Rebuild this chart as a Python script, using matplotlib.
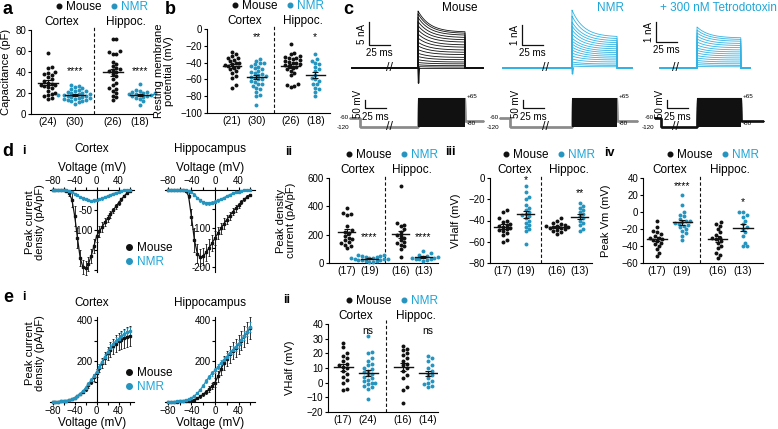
import numpy as np
import matplotlib
matplotlib.use("Agg")
import matplotlib.pyplot as plt
import matplotlib.transforms as mtransforms
from matplotlib.lines import Line2D

plt.rcParams["font.family"] = ["Liberation Sans", "DejaVu Sans"]
plt.rcParams["axes.linewidth"] = 0.8

BLACK = "#111111"
NMR = "#2595c0"
NMR_TXT = "#1fa6d8"
TRACE = "#33b3e3"

# ---------------- data ----------------
# a: capacitance (pF)
cap_mouse_ctx = [58, 45, 44, 40, 39, 38, 37, 35, 33, 31, 30, 29, 28, 28, 27, 26, 25, 22, 20, 19, 18, 17, 15, 14]
cap_nmr_ctx = [28, 27, 26, 25, 24, 23, 22, 22, 21, 20, 20, 19, 19, 18, 18, 18, 17, 17, 16, 16, 15, 15,
               14, 14, 13, 13, 12, 12, 11, 10]
cap_mouse_hip = [71, 71, 60, 59, 57, 57, 50, 48, 46, 44, 43, 42, 41, 40, 38, 36, 33, 30, 28, 25, 24, 22,
                 20, 17, 16, 13]
cap_nmr_hip = [29, 23, 22, 21, 21, 20, 20, 19, 19, 18, 18, 17, 17, 16, 15, 14, 12, 9]

# b: resting membrane potential (mV)
rmp_mouse_ctx = [-27, -30, -32, -34, -35, -37, -38, -40, -41, -42, -43, -44, -45, -46, -48, -50, -52, -56,
                 -58, -67, -70]
rmp_nmr_ctx = [-36, -38, -40, -41, -42, -44, -45, -47, -48, -50, -51, -52, -54, -55, -56, -57, -58, -59,
               -60, -62, -63, -65, -66, -68, -70, -72, -75, -78, -80, -90]
rmp_mouse_hip = [-18, -28, -30, -32, -33, -34, -35, -36, -37, -38, -39, -40, -41, -42, -43, -44, -45, -46,
                 -48, -50, -52, -55, -66, -67, -68, -69]
rmp_nmr_hip = [-30, -36, -38, -40, -42, -45, -48, -50, -55, -58, -60, -62, -65, -66, -70, -72, -75, -80]

# d ii: Na peak density current (pA/pF)
na_peak_mouse_ctx = [385, 345, 350, 340, 260, 230, 220, 210, 190, 180, 170, 160, 150, 140, 130, 120, 105]
na_peak_nmr_ctx = [60, 55, 52, 48, 45, 40, 38, 35, 32, 30, 28, 25, 22, 20, 18, 15, 12, 10, 8]
na_peak_mouse_hip = [540, 280, 270, 260, 240, 220, 200, 190, 180, 160, 150, 140, 130, 120, 100, 40]
na_peak_nmr_hip = [85, 70, 55, 50, 45, 40, 38, 35, 30, 28, 25, 20, 15]

# d iii: Na VHalf (mV)
na_vh_mouse_ctx = [-30, -32, -38, -40, -41, -43, -44, -45, -46, -47, -48, -49, -50, -52, -54, -58, -60]
na_vh_nmr_ctx = [-8, -13, -18, -20, -25, -28, -30, -32, -34, -35, -36, -38, -40, -42, -44, -46, -48, -50, -62]
na_vh_mouse_hip = [-38, -40, -42, -43, -44, -45, -45, -46, -46, -47, -47, -48, -49, -50, -51, -53]
na_vh_nmr_hip = [-24, -26, -28, -30, -32, -34, -36, -38, -40, -42, -44, -48, -50]

# d iv: peak Vm (mV)
na_vm_mouse_ctx = [-10, -18, -22, -24, -26, -28, -30, -31, -32, -33, -34, -36, -38, -40, -44, -48, -52]
na_vm_nmr_ctx = [20, 8, 0, -3, -5, -8, -10, -11, -12, -13, -14, -15, -16, -18, -20, -22, -25, -28, -33]
na_vm_mouse_hip = [-12, -14, -16, -20, -24, -27, -30, -31, -32, -34, -36, -40, -42, -48, -50, -54]
na_vm_nmr_hip = [0, 0, -3, -6, -10, -14, -18, -20, -24, -28, -36, -40, -40]

# e ii: K VHalf (mV)
k_vh_mouse_ctx = [27, 24, 20, 18, 17, 15, 13, 12, 11, 10, 8, 6, 4, 2, 0, -4, -5]
k_vh_nmr_ctx = [32, 21, 20, 17, 15, 13, 12, 10, 9, 8, 7, 6, 5, 4, 3, 2, 1, 0, 0, -1, -2, -3, -4, -11]
k_vh_mouse_hip = [25, 23, 22, 20, 19, 17, 15, 13, 12, 10, 8, 5, 3, -3, -5, -14]
k_vh_nmr_hip = [18, 17, 15, 12, 10, 8, 6, 5, 3, 1, 0, -1, -2, -3]

# d i / e i: I-V curves
volts = [-80, -75, -70, -65, -60, -55, -50, -45, -40, -35, -30, -25, -20, -15, -10, -5, 0,
         5, 10, 15, 20, 25, 30, 35, 40, 45, 50, 55, 60]
na_iv_mouse_ctx = [0, 0, 0, 0, -1, -2, -8, -25, -65, -120, -170, -193, -195, -185, -165, -140, -115,
                   -103, -92, -81, -71, -61, -51, -41, -32, -23, -15, -8, -3]
na_iv_mouse_ctx_sem = [0, 0, 0, 0, 1, 2, 8, 18, 25, 25, 20, 18, 18, 18, 18, 17, 16, 14, 12, 10, 9, 8,
                       7, 6, 5, 4, 3, 2, 2]
na_iv_nmr_ctx = [0, 0, 0, 0, 0, 0, -2, -5, -9, -13, -18, -21, -23, -25, -27, -26, -25, -23, -21, -18,
                 -15, -12, -9, -7, -5, -3, -1, 0, 0]
na_iv_nmr_ctx_sem = [0, 0, 0, 0, 0, 0, 1, 1, 2, 2, 3, 3, 3, 3, 3, 3, 3, 3, 3, 2, 2, 2, 1, 1, 1, 1, 0, 0, 0]
na_iv_mouse_hip = [0, 0, 0, 0, 0, 0, -2, -15, -70, -130, -165, -175, -172, -162, -150, -138, -125,
                   -112, -100, -88, -77, -67, -57, -48, -40, -32, -24, -17, -12]
na_iv_mouse_hip_sem = [0, 0, 0, 0, 0, 1, 2, 6, 20, 30, 25, 22, 22, 22, 22, 20, 18, 16, 15, 14, 12, 10,
                       9, 8, 6, 5, 4, 3, 2]
na_iv_nmr_hip = [0, 0, 0, 0, 0, 0, 0, -2, -6, -12, -20, -27, -32, -35, -35, -33, -30, -27, -24, -20,
                 -16, -12, -9, -6, -4, -2, -1, 0, 0]
na_iv_nmr_hip_sem = [0, 0, 0, 0, 0, 0, 0, 1, 2, 3, 3, 4, 4, 4, 4, 4, 4, 3, 3, 3, 3, 2, 2, 2, 1, 1, 1, 0, 0]

k_iv_mouse_ctx = [2, 2, 2, 3, 4, 6, 9, 14, 20, 28, 38, 50, 65, 82, 100, 120, 142, 165, 190, 215, 238,
                  256, 272, 285, 296, 305, 312, 318, 322]
k_iv_mouse_ctx_sem = [1, 1, 1, 1, 1, 2, 2, 3, 4, 5, 6, 8, 10, 12, 14, 16, 18, 20, 24, 28, 32, 35, 38,
                      40, 42, 44, 46, 48, 50]
k_iv_nmr_ctx = [2, 2, 2, 3, 4, 6, 9, 14, 21, 30, 41, 54, 70, 88, 107, 127, 148, 172, 197, 222, 245,
                265, 282, 297, 310, 322, 332, 340, 346]
k_iv_nmr_ctx_sem = [1, 1, 1, 1, 1, 1, 2, 2, 3, 4, 5, 6, 7, 8, 9, 10, 11, 12, 13, 14, 15, 16, 17, 18,
                    19, 20, 20, 21, 22]
k_iv_mouse_hip = [1, 1, 2, 2, 3, 4, 5, 6, 8, 12, 18, 27, 38, 50, 63, 78, 95, 125, 160, 190, 212, 232,
                  250, 266, 282, 300, 320, 340, 362]
k_iv_mouse_hip_sem = [1, 1, 1, 1, 1, 1, 2, 2, 3, 4, 5, 6, 8, 10, 13, 16, 20, 25, 30, 35, 38, 40, 42,
                      44, 46, 48, 50, 52, 54]
k_iv_nmr_hip = [1, 1, 2, 3, 4, 6, 9, 13, 20, 30, 43, 60, 80, 102, 123, 140, 155, 172, 190, 207, 222,
                238, 254, 269, 284, 304, 324, 344, 366]
k_iv_nmr_hip_sem = [1, 1, 1, 1, 1, 1, 1, 2, 2, 3, 4, 5, 6, 8, 10, 11, 12, 13, 14, 15, 16, 17, 18, 19,
                    20, 21, 22, 23, 24]

# c: example current families (nA) and voltage protocol (mV)
mouse_peaks = [12.4, 11.8, 11.0, 10.1, 9.2, 8.3, 7.4, 6.5, 5.6, 4.8, 4.0, 3.2, 2.5, 1.8, 1.2, 0.7, 0.3, 0.1]
mouse_ends = [7.8, 7.5, 7.1, 6.6, 6.1, 5.6, 5.0, 4.5, 3.9, 3.4, 2.9, 2.3, 1.8, 1.3, 0.9, 0.5, 0.2, 0.1]
nmr_peaks = [2.9, 2.6, 2.3, 2.1, 1.9, 1.7, 1.5, 1.35, 1.2, 1.05, 0.9, 0.75, 0.6, 0.45, 0.3, 0.2, 0.1]
nmr_ends = [1.55, 1.45, 1.35, 1.25, 1.15, 1.05, 0.95, 0.85, 0.76, 0.67, 0.58, 0.49, 0.4, 0.3, 0.2, 0.13, 0.06]
ttx_peaks = [2.05, 1.9, 1.75, 1.6, 1.45, 1.3, 1.15, 1.0, 0.88, 0.75, 0.62, 0.5, 0.38, 0.27, 0.17, 0.08]
ttx_ends = [1.5, 1.42, 1.33, 1.22, 1.12, 1.01, 0.9, 0.8, 0.7, 0.6, 0.5, 0.4, 0.3, 0.21, 0.13, 0.06]
step_levels = [-80, -75, -70, -65, -60, -55, -50, -45, -40, -35, -30, -25, -20, -15, -10, -5, 0,
               5, 10, 15, 20, 25, 30, 35, 40, 45, 50, 55, 60, 65]

# ---------------- figure ----------------
W, H = 778, 429
fig = plt.figure(figsize=(W / 100, H / 100), dpi=100)


def px_axes(x0, y0, x1, y1):
    return fig.add_axes([x0 / W, 1 - y1 / H, (x1 - x0) / W, (y1 - y0) / H])


def ftext(x, y, s, **kw):
    kw.setdefault("ha", "center")
    kw.setdefault("va", "center")
    return fig.text(x / W, 1 - y / H, s, **kw)


POS = [0, 1, 2.4, 3.4]
COLS = [BLACK, NMR, BLACK, NMR]


def swarm_x(ax, pos, vals, d=3.7):
    tr = ax.transData
    pts = tr.transform(np.column_stack([np.full(len(vals), pos), vals]))
    ys = pts[:, 1]
    unit = tr.transform((pos + 1, 0))[0] - tr.transform((pos, 0))[0]
    offs = np.zeros(len(vals))
    placed = []
    for i in np.argsort(ys):
        k = 0
        while True:
            off = ((k + 1) // 2) * 0.5 * d * (1 if k % 2 else -1)
            if all((off - po) ** 2 + (ys[i] - py) ** 2 >= d * d for po, py in placed):
                break
            k += 1
        placed.append((off, ys[i]))
        offs[i] = off
    return pos + offs / unit


def dot_panel(box, groups, xlim, ylim, yticks, ylabel, ylab_x, marks, mark_y):
    ax = px_axes(*box)
    hpx = box[3] - box[1]
    ax.set_xlim(xlim)
    ax.set_ylim(ylim)
    for s in ["top", "right"]:
        ax.spines[s].set_visible(False)
    ax.set_yticks(yticks)
    ax.tick_params(axis="y", labelsize=7, length=2.5, width=0.8, pad=1)
    ax.set_xticks(POS)
    ax.set_xticklabels([f"({len(g)})" for g in groups], fontsize=7.5)
    ax.tick_params(axis="x", length=0, pad=2)
    ax.set_ylabel(ylabel, fontsize=8, linespacing=1.0)
    ax.yaxis.set_label_coords(ylab_x, 0.5)
    blend = mtransforms.blended_transform_factory(ax.transData, ax.transAxes)
    ax.plot([1.7, 1.7], [0, 1.04], transform=blend, ls=(0, (3, 2)), color=BLACK, lw=0.8, clip_on=False)
    for p, g, c in zip(POS, groups, COLS):
        g = np.asarray(g, float)
        xs = swarm_x(ax, p, g)
        ax.scatter(xs, g, s=8, color=c, lw=0, zorder=3, clip_on=False)
        m = g.mean()
        se = g.std(ddof=1) / np.sqrt(len(g))
        ax.plot([p - 0.38, p + 0.38], [m, m], color=BLACK, lw=1.0, zorder=4)
        ax.errorbar(p, m, yerr=se, color=BLACK, lw=0.8, capsize=2.2, capthick=0.8, zorder=4)
    for idx, s, y in zip([1, 3], marks, mark_y):
        ax.text(POS[idx], y, s, ha="center", va="center", fontsize=7.5)
    ax.text(0.5, 1 + 8 / hpx, "Cortex", transform=blend, ha="center", va="center", fontsize=8.5)
    ax.text(2.9, 1 + 8 / hpx, "Hippoc.", transform=blend, ha="center", va="center", fontsize=8.5)
    h = [Line2D([], [], ls="", marker="o", ms=3.3, color=BLACK),
         Line2D([], [], ls="", marker="o", ms=3.3, color=NMR)]
    leg = ax.legend(h, ["Mouse", "NMR"], ncol=2, loc="center", bbox_to_anchor=(0.58, 1 + 23 / hpx),
                    frameon=False, fontsize=8.5, handletextpad=0.35, columnspacing=0.8,
                    handlelength=0.5, borderpad=0, borderaxespad=0)
    leg.get_texts()[1].set_color(NMR_TXT)
    return ax


dot_panel((31, 30, 153, 114), [cap_mouse_ctx, cap_nmr_ctx, cap_mouse_hip, cap_nmr_hip],
          (-0.63, 3.89), (0, 80), [0, 20, 40, 60, 80], "Capacitance (pF)", -0.16,
          ["****", "****"], [41, 41])
dot_panel((207, 29, 330, 113), [rmp_mouse_ctx, rmp_nmr_ctx, rmp_mouse_hip, rmp_nmr_hip],
          (-1.02, 4.0), (-100, 0), [0, -20, -40, -60, -80, -100],
          "Resting membrane\npotential (mV)", -0.27, ["**", "*"], [-10, -10])
dot_panel((329, 178, 438, 263), [na_peak_mouse_ctx, na_peak_nmr_ctx, na_peak_mouse_hip, na_peak_nmr_hip],
          (-0.8, 4.06), (0, 600), [0, 200, 400, 600], "Peak density\ncurrent (pA/pF)", -0.3,
          ["****", "****"], [180, 180])
dot_panel((490, 178, 592, 263), [na_vh_mouse_ctx, na_vh_nmr_ctx, na_vh_mouse_hip, na_vh_nmr_hip],
          (-0.57, 3.94), (-80, 0), [0, -20, -40, -60, -80], "VHalf (mV)", -0.28,
          ["*", "**"], [-2, -14])
dot_panel((643, 178, 763, 263), [na_vm_mouse_ctx, na_vm_nmr_ctx, na_vm_mouse_hip, na_vm_nmr_hip],
          (-0.55, 4.19), (-60, 40), [40, 20, 0, -20, -40, -60], "Peak Vm (mV)", -0.27,
          ["****", "*"], [31, 12])
dot_panel((328, 324, 438, 412), [k_vh_mouse_ctx, k_vh_nmr_ctx, k_vh_mouse_hip, k_vh_nmr_hip],
          (-0.6, 3.8), (-20, 40), [40, 30, 20, 10, 0, -10, -20], "VHalf (mV)", -0.3,
          ["ns", "ns"], [35, 35])


# ---- I-V panels ----
def iv_panel(box, ylim, yticks, ylabels, yminor, top, series):
    ax = px_axes(*box)
    ax.set_xlim(-85, 68)
    ax.set_ylim(ylim)
    ax.spines["left"].set_position(("data", 0))
    ax.spines["right"].set_visible(False)
    if top:
        ax.spines["bottom"].set_visible(False)
        ax.xaxis.tick_top()
    else:
        ax.spines["top"].set_visible(False)
    ax.set_xticks([-80, -40, 0, 40])
    ax.set_xticks([-60, -20, 20, 60], minor=True)
    ax.set_yticks(yticks)
    ax.set_yticklabels(ylabels)
    ax.set_yticks(yminor, minor=True)
    ax.tick_params(labelsize=7, length=2.5, width=0.8, pad=0.5)
    ax.tick_params(which="minor", length=2, width=0.8)
    ax.patch.set_alpha(0)
    for vals, sem, c in series:
        ax.errorbar(volts, vals, yerr=sem, color=c, marker="s", ms=1.6, lw=0.9, elinewidth=0.6,
                    capsize=1.0, capthick=0.6, clip_on=False, zorder=3)
    return ax


iv_panel((50, 190, 134, 272), (-205, 0), [-50, -100, -150, -200], ["-50", "-100", "", ""], [],
         True, [(na_iv_mouse_ctx, na_iv_mouse_ctx_sem, BLACK), (na_iv_nmr_ctx, na_iv_nmr_ctx_sem, NMR)])
iv_panel((165, 190, 255, 272), (-213, 0), [-100, -200], ["-100", "-200"], [-50, -150],
         True, [(na_iv_mouse_hip, na_iv_mouse_hip_sem, BLACK), (na_iv_nmr_hip, na_iv_nmr_hip_sem, NMR)])
iv_panel((50, 317, 134, 402), (0, 415), [0, 200, 400], ["", "200", "400"], [100, 300],
         False, [(k_iv_mouse_ctx, k_iv_mouse_ctx_sem, BLACK), (k_iv_nmr_ctx, k_iv_nmr_ctx_sem, NMR)])
iv_panel((165, 317, 255, 402), (0, 415), [0, 200, 400], ["", "200", "400"], [100, 300],
         False, [(k_iv_mouse_hip, k_iv_mouse_hip_sem, BLACK), (k_iv_nmr_hip, k_iv_nmr_hip_sem, NMR)])

for y0 in (149, 303):
    ftext(92, y0, "Cortex", fontsize=8.5)
    ftext(210, y0, "Hippocampus", fontsize=8.5)
for y0 in (168, 423):
    ftext(92, y0, "Voltage (mV)", fontsize=8.5)
    ftext(210, y0, "Voltage (mV)", fontsize=8.5)
ftext(35, 222, "Peak current\ndensity (pA/pF)", rotation=90, fontsize=8, linespacing=1.0)
ftext(35, 353, "Peak current\ndensity (pA/pF)", rotation=90, fontsize=8, linespacing=1.0)

for yc in (255, 380):
    hh = [Line2D([], [], ls="", marker="o", ms=4, color=BLACK),
          Line2D([], [], ls="", marker="o", ms=4, color=NMR)]
    lg = fig.legend(hh, ["Mouse", "NMR"], loc="center left", bbox_to_anchor=(124 / W, 1 - yc / H),
                    frameon=False, fontsize=8.5, handletextpad=0.3, labelspacing=0.15,
                    handlelength=0.8, borderpad=0, borderaxespad=0)
    lg.get_texts()[1].set_color(NMR_TXT)

# ---- c: example traces ----
PX_MS = 0.84


def trace_set(x0, x1, peaks, ends, color, px_na, na_dip, lay, vcolor):
    tmax = (x1 - x0) / PX_MS
    axi = px_axes(x0, 4, x1, 92)
    axi.set_xlim(0, tmax)
    axi.set_ylim(-(92 - 68) / px_na, (68 - 4) / px_na)
    axi.axis("off")
    t_on, t_off = lay["on"], lay["off"]
    tt = np.linspace(t_on, t_off, 60)
    for pk, en in zip(peaks, ends):
        cur = en + (pk - en) * np.exp(-(tt - t_on) / 14.0)
        axi.plot(np.r_[lay["i0"], t_on, tt, t_off, lay["i1"]], np.r_[0, 0, cur, 0, 0],
                 color=color, lw=0.6)
    if na_dip:
        axi.plot([t_on, t_on + 0.6, t_on + 1.6], [0, na_dip, 0], color=color, lw=1.0)
    sb_t, sb_i, sb = lay["sb_t"], lay["sb_i"], lay["sb"]
    axi.plot([sb_t, sb_t, sb_t + 25], [sb_i + sb, sb_i, sb_i], color=BLACK, lw=0.9)
    axi.text(sb_t - 2, sb_i + sb / 2, f"{sb:g} nA", rotation=90, ha="right", va="center", fontsize=7)
    axi.text(sb_t + 12.5, sb_i - 3 / px_na, "25 ms", ha="center", va="top", fontsize=7)
    axi.text(lay["brk"], 0, "//", ha="center", va="center", fontsize=9, color=BLACK)

    axv = px_axes(x0, 90, x1, 134)
    axv.set_xlim(0, tmax)
    axv.set_ylim(-164.6, 115.7)
    axv.axis("off")
    for lv in step_levels:
        axv.plot([lay["h"], lay["pre"], lay["pre"], t_on, t_on, t_off, t_off, lay["v1"]],
                 [-60, -60, -120, -120, lv, lv, -80, -80], color=vcolor, lw=0.8, zorder=2)
    axv.fill_between([t_on, t_off], -120, max(step_levels), color=BLACK, lw=0, zorder=3)
    axv.text(lay["h"] - 1, -60, "-60", ha="right", va="center", fontsize=4.5)
    axv.text(lay["h"] - 1, -125, "-120", ha="right", va="center", fontsize=4.5)
    axv.text(t_off + 2, 72, "+65", ha="left", va="center", fontsize=4.5)
    axv.text(t_off + 2, -100, "-80", ha="left", va="center", fontsize=4.5)
    vt = lay["vsb"]
    axv.plot([vt, vt, vt + 25], [50, 0, 0], color=BLACK, lw=0.9)
    axv.text(vt - 2, 25, "50 mV", rotation=90, ha="right", va="center", fontsize=7)
    axv.text(vt + 12.5, -58, "25 ms", ha="center", va="center", fontsize=7)
    axv.text(lay["brk"], -120, "//", ha="center", va="center", fontsize=9, color=BLACK)


trace_set(340, 490, mouse_peaks, mouse_ends, BLACK, 4.6, -3.3,
          dict(on=92.9, off=148.8, i0=14.3, i1=170.2, sb_t=34.5, sb_i=5.0, sb=5, brk=59.5,
               h=11.9, pre=23.8, v1=170.2, vsb=29.8), "#8a8a8a")
trace_set(490, 640, nmr_peaks, nmr_ends, TRACE, 20, -0.3,
          dict(on=97.6, off=151.2, i0=15.5, i1=169.0, sb_t=38.1, sb_i=1.15, sb=1, brk=65.5,
               h=11.9, pre=23.8, v1=175.0, vsb=39.3), "#8a8a8a")
trace_set(640, 778, ttx_peaks, ttx_ends, TRACE, 20, 0,
          dict(on=67.9, off=120.0, i0=23.8, i1=131.0, sb_t=19.0, sb_i=1.3, sb=1, brk=41.7,
               h=17.9, pre=25.0, v1=146.4, vsb=32.1), BLACK)

ftext(460, 8, "Mouse", fontsize=8.5)
ftext(610, 8, "NMR", fontsize=8.5, color=NMR_TXT)
ftext(718, 8, "+ 300 nM Tetrodotoxin", fontsize=8.5, color=NMR_TXT)

# ---- panel letters ----
for x, y, s, fs in [(8, 10, "a", 13), (170, 10, "b", 13), (348, 10, "c", 13), (8, 152, "d", 13),
                    (24, 151, "i", 9), (289, 152, "ii", 9), (450, 152, "iii", 9), (609, 153, "iv", 9),
                    (8, 298, "e", 13), (24, 297, "i", 9), (287, 300, "ii", 9)]:
    ftext(x, y, s, fontsize=fs, fontweight="bold")

fig.savefig("out.png", dpi=100)
